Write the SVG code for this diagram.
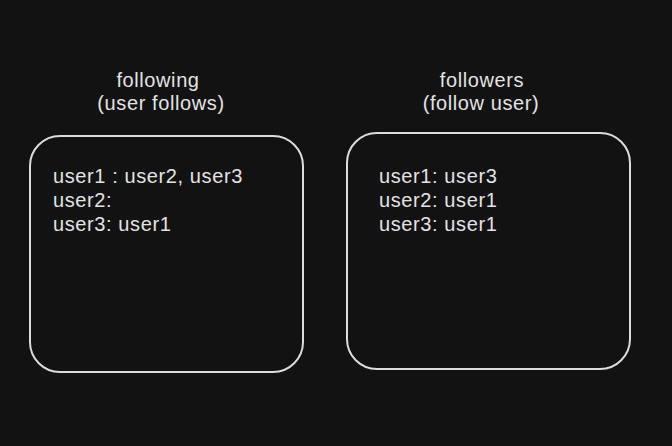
<svg xmlns="http://www.w3.org/2000/svg" width="672" height="446" viewBox="0 0 672 446">
<style>
.box{fill:#121212;stroke:#dcdcdc;stroke-width:2}
.t{font-family:"Liberation Sans",Arial,sans-serif;font-size:20px;letter-spacing:0.6px;fill:#e3e3e3}
.h{text-anchor:middle}
</style>
<rect width="672" height="446" fill="#121212"/>
<g id="following">
<text class="t h" x="158" y="87">following</text>
<text class="t h" x="161" y="110">(user follows)</text>
<rect class="box" x="30" y="136" width="273" height="236" rx="30"/>
<text class="t" x="53" y="183">user1 : user2, user3</text>
<text class="t" x="53" y="207">user2:</text>
<text class="t" x="53" y="231">user3: user1</text>
</g>
<g id="followers">
<text class="t h" x="482" y="87">followers</text>
<text class="t h" x="481" y="110">(follow user)</text>
<rect class="box" x="347" y="133" width="283" height="236" rx="30"/>
<text class="t" x="379" y="183">user1: user3</text>
<text class="t" x="379" y="207">user2: user1</text>
<text class="t" x="379" y="231">user3: user1</text>
</g>
<g id="connectors"/>
</svg>
